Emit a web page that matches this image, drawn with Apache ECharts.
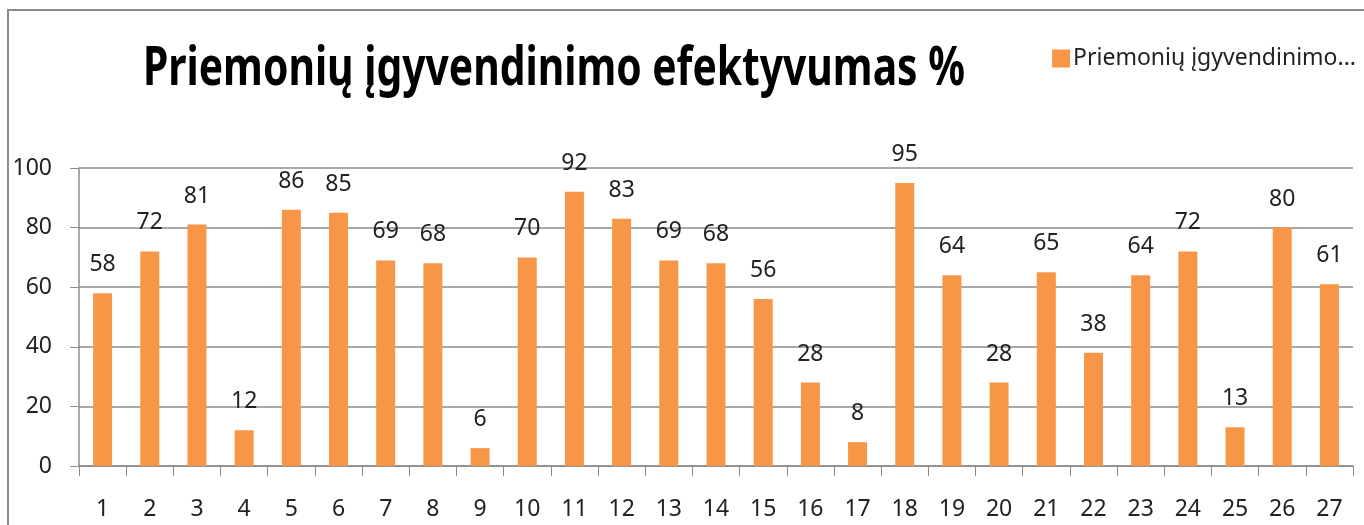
<!DOCTYPE html>
<html>
<head>
<meta charset="utf-8">
<script src="https://cdn.jsdelivr.net/npm/echarts@6/dist/echarts.min.js"></script>
<style>
html,body{margin:0;padding:0;background:#fff;}
#c{width:1364px;height:525px;}
</style>
</head>
<body>
<div id="c"></div>
<script>
var titleText = 'Priemonių įgyvendinimo efektyvumas %';
var seriesName = 'Priemonių įgyvendinimo efektyvumas %';
var legendLabel = 'Priemonių įgyvendinimo...';
var categories = ['1','2','3','4','5','6','7','8','9','10','11','12','13','14','15','16','17','18','19','20','21','22','23','24','25','26','27'];
var values = [58,72,81,12,86,85,69,68,6,70,92,83,69,68,56,28,8,95,64,28,65,38,64,72,13,80,61];

var chart = echarts.init(document.getElementById('c'));
var font = "'Noto Sans', 'DejaVu Sans', sans-serif";
chart.setOption({
  animation: false,
  backgroundColor: '#fff',
  graphic: [{
    type: 'rect', silent: true, z: 0,
    shape: {x: 8, y: 10, width: 1400, height: 600},
    style: {fill: 'none', stroke: '#8c8c8c', lineWidth: 2}
  }, {
    type: 'text', silent: true, z: 10,
    x: 143, y: 70, scaleY: 1.3,
    style: {
      text: titleText, x: 0, y: 0,
      font: "bold 40.8px 'Noto Sans', 'DejaVu Sans', sans-serif",
      fill: '#000', align: 'left', verticalAlign: 'middle'
    }
  }],
  legend: {
    right: 3, top: 42,
    itemWidth: 18, itemHeight: 18, itemGap: 4,
    icon: 'rect',
    formatter: function(){ return legendLabel; },
    textStyle: {fontFamily: font, fontSize: 23, color: '#222', padding: [0,0,0,-2]}
  },
  grid: {left: 79, right: 11, top: 168, bottom: 59, containLabel: false},
  xAxis: {
    type: 'category', data: categories,
    axisLine: {lineStyle: {color: '#8c8c8c', width: 1.5}},
    axisTick: {show: true, length: 10, lineStyle: {color: '#8c8c8c'}},
    axisLabel: {fontFamily: font, fontSize: 23, color: '#222', margin: 32}
  },
  yAxis: {
    type: 'value', min: 0, max: 100, interval: 20,
    axisLine: {show: true, lineStyle: {color: '#8c8c8c', width: 1.5}},
    axisTick: {show: true, length: 9, lineStyle: {color: '#8c8c8c'}},
    splitLine: {lineStyle: {color: '#8c8c8c', width: 1.5}},
    axisLabel: {fontFamily: font, fontSize: 23, color: '#222', margin: 27}
  },
  series: [{
    name: seriesName, type: 'bar', data: values,
    barWidth: 19,
    itemStyle: {color: '#F79646'},
    label: {show: true, position: 'top', distance: 17, fontFamily: font, fontSize: 23, color: '#222'}
  }]
});
</script>
</body>
</html>
